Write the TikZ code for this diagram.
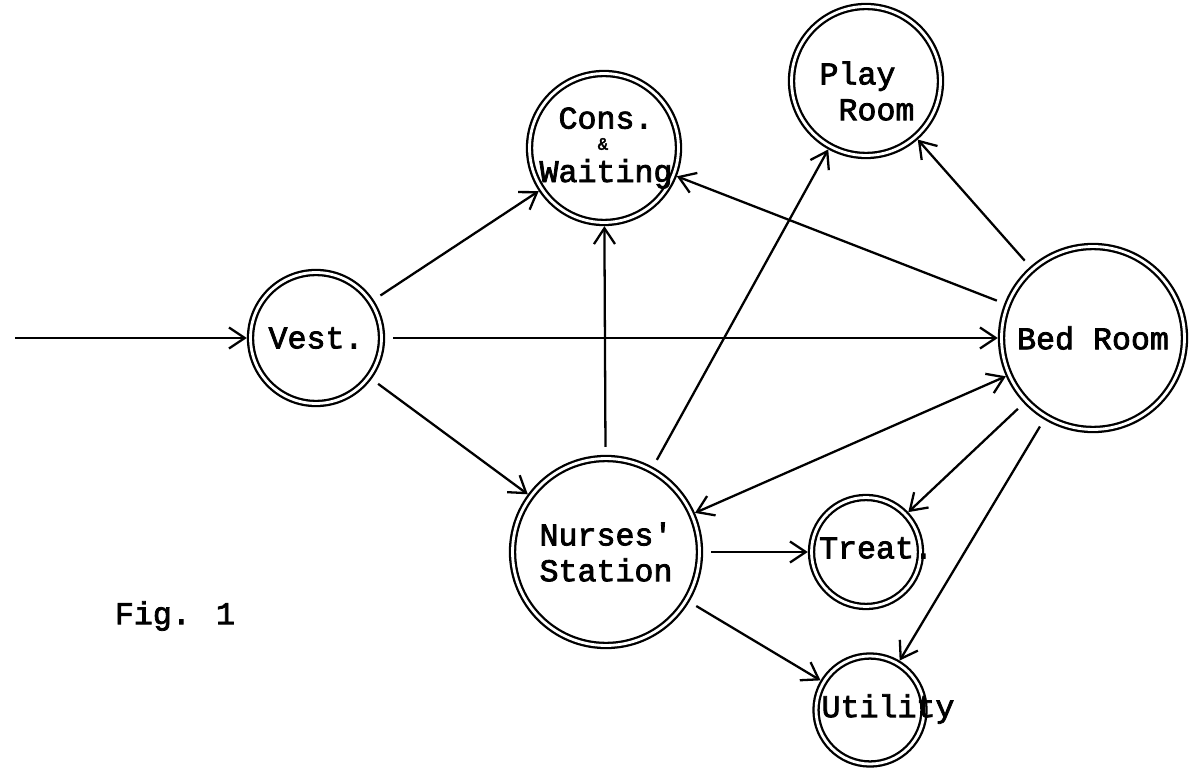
\documentclass[tikz,border=0pt]{standalone}
\usepackage{fontspec}
\newfontfamily\typer{Liberation Mono}[FakeBold=2.5]
\usetikzlibrary{arrows.meta}

\tikzset{
  room/.style={circle,draw,double,double distance=1.6pt,line width=1.3pt,
    inner sep=0pt,outer sep=2.1pt,align=center,
    font=\typer\fontsize{18}{20.4}\selectfont},
  roomtext/.style={inner sep=0pt,align=center,font=\typer\fontsize{18}{20.4}\selectfont},
  flow/.style={->,line width=1.3pt,shorten <=0.16cm},
  >={Straight Barb[length=9pt,width=12pt]}
}

\begin{document}
\begin{tikzpicture}[x=0.02cm,y=-0.02cm]
\useasboundingbox (0,0) rectangle (1190,770);

\node[room,minimum size=2.62cm] (vest) at (316,338) {Vest.};
\node[room,minimum size=2.98cm] (cons) at (604,148) {};
\node[room,minimum size=2.98cm] (play) at (866,81) {};
\node[room,minimum size=3.66cm] (bed) at (1093,338) {Bed Room};
\node[room,minimum size=3.74cm] (nurses) at (606,552) {Nurses'\\Station};
\node[room,minimum size=2.18cm] (treat) at (866,552) {};
\node[room,minimum size=2.16cm] (util) at (870,710) {};

\node[roomtext] (cons-t) at (606,148) {Cons.\\[10pt]Waiting};
\node[roomtext,font=\typer\fontsize{10}{10}\selectfont] (cons-amp) at (603,144) {\&};
\node[roomtext,align=left] (play-t) at (867,91) {Play\\\hphantom{P}Room};
\node[roomtext] (treat-t) at (876,548) {Treat.};
\node[roomtext] (util-t) at (888,709) {Utility};
\node[roomtext] (fig) at (175,616) {Fig. 1};

\coordinate (entry) at (15,338);

\draw[flow,shorten <=0pt] (entry) -- (vest);
\draw[flow] (vest) -- (cons);
\draw[flow] (vest) -- (bed);
\draw[flow] (vest) -- (nurses);
\draw[flow] (nurses) -- (cons);
\draw[flow] (nurses) -- (play);
\draw[flow] (bed) -- (cons);
\draw[flow] (bed) -- (play);
\draw[flow,<->,shorten <=0pt] (nurses) -- (bed);
\draw[flow] (nurses) -- (treat);
\draw[flow] (bed) -- (treat);
\draw[flow] (nurses) -- (util);
\draw[flow] (bed) -- (util);
\end{tikzpicture}
\end{document}
